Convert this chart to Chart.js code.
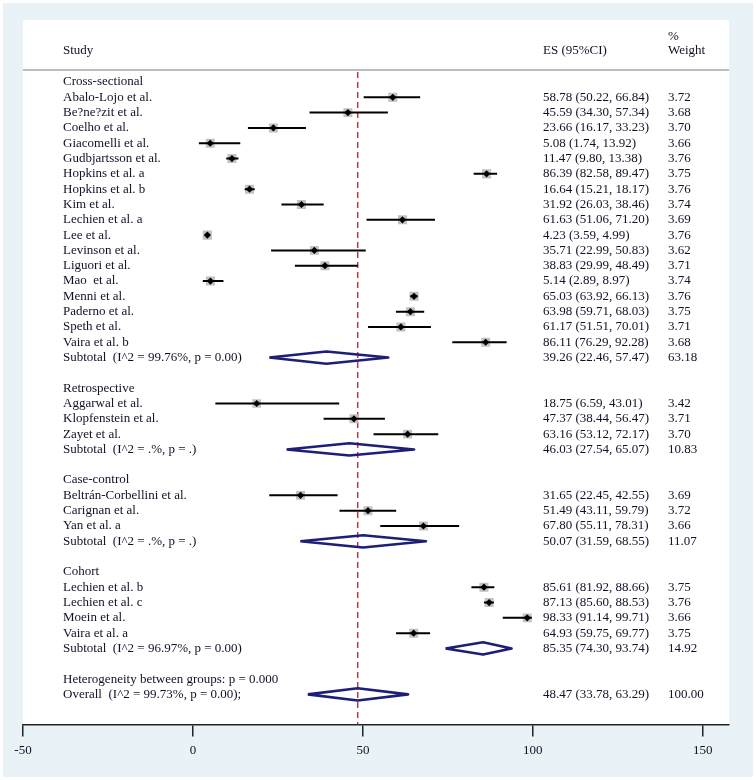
<!DOCTYPE html>
<html>
<head>
<meta charset="utf-8">
<script src="https://cdn.jsdelivr.net/npm/chart.js@4.4.1/dist/chart.umd.min.js"></script>
<style>
html,body{margin:0;padding:0;background:#ffffff;}
#wrap{width:756px;height:780px;position:relative;}
</style>
</head>
<body>
<div id="wrap"><canvas id="c" width="756" height="780"></canvas></div>
<script>
// ---------- DATA ----------
const rowLabels = [
  'Cross-sectional',
  'Abalo-Lojo et al.', 'Be?ne?zit et al.', 'Coelho et al.', 'Giacomelli et al.',
  'Gudbjartsson et al.', 'Hopkins et al. a', 'Hopkins et al. b', 'Kim et al.',
  'Lechien et al. a', 'Lee et al.', 'Levinson et al.', 'Liguori et al.',
  'Mao  et al.', 'Menni et al.', 'Paderno et al.', 'Speth et al.', 'Vaira et al. b',
  'Subtotal  (I^2 = 99.76%, p = 0.00)',
  '',
  'Retrospective',
  'Aggarwal et al.', 'Klopfenstein et al.', 'Zayet et al.',
  'Subtotal  (I^2 = .%, p = .)',
  '',
  'Case-control',
  'Beltrán-Corbellini et al.', 'Carignan et al.', 'Yan et al. a',
  'Subtotal  (I^2 = .%, p = .)',
  '',
  'Cohort',
  'Lechien et al. b', 'Lechien et al. c', 'Moein et al.', 'Vaira et al. a',
  'Subtotal  (I^2 = 96.97%, p = 0.00)',
  '',
  'Heterogeneity between groups: p = 0.000',
  'Overall  (I^2 = 99.73%, p = 0.00);'
];
const rowKinds = [
  'group',
  'study','study','study','study','study','study','study','study','study',
  'study','study','study','study','study','study','study','study',
  'pooled','blank',
  'group','study','study','study','pooled','blank',
  'group','study','study','study','pooled','blank',
  'group','study','study','study','study','pooled','blank',
  'note','pooled'
];
const esValues = [
  null,
  58.78, 45.59, 23.66, 5.08, 11.47, 86.39, 16.64, 31.92, 61.63, 4.23, 35.71, 38.83, 5.14, 65.03, 63.98, 61.17, 86.11,
  39.26, null,
  null, 18.75, 47.37, 63.16, 46.03, null,
  null, 31.65, 51.49, 67.80, 50.07, null,
  null, 85.61, 87.13, 98.33, 64.93, 85.35, null,
  null, 48.47
];
const ciLower = [
  null,
  50.22, 34.30, 16.17, 1.74, 9.80, 82.58, 15.21, 26.03, 51.06, 3.59, 22.99, 29.99, 2.89, 63.92, 59.71, 51.51, 76.29,
  22.46, null,
  null, 6.59, 38.44, 53.12, 27.54, null,
  null, 22.45, 43.11, 55.11, 31.59, null,
  null, 81.92, 85.60, 91.14, 59.75, 74.30, null,
  null, 33.78
];
const ciUpper = [
  null,
  66.84, 57.34, 33.23, 13.92, 13.38, 89.47, 18.17, 38.46, 71.20, 4.99, 50.83, 48.49, 8.97, 66.13, 68.03, 70.01, 92.28,
  57.47, null,
  null, 43.01, 56.47, 72.17, 65.07, null,
  null, 42.55, 59.79, 78.31, 68.55, null,
  null, 88.66, 88.53, 99.71, 69.77, 93.74, null,
  null, 63.29
];
const weights = [
  null,
  3.72, 3.68, 3.70, 3.66, 3.76, 3.75, 3.76, 3.74, 3.69, 3.76, 3.62, 3.71, 3.74, 3.76, 3.75, 3.71, 3.68,
  63.18, null,
  null, 3.42, 3.71, 3.70, 10.83, null,
  null, 3.69, 3.72, 3.66, 11.07, null,
  null, 3.75, 3.76, 3.66, 3.75, 14.92, null,
  null, 100.00
];
const xTicks = [-50, 0, 50, 100, 150];
const headerStudy = 'Study';
const headerES = 'ES (95%CI)';
const headerPct = '%';
const headerWeight = 'Weight';

// ---------- BUILD DATASETS ----------
const overallIndex = rowKinds.lastIndexOf('pooled');
const overallES = esValues[overallIndex];
const pointData = [], boxData = [], boxRadii = [], ciData = [], diamondData = [];
const DIAMOND_H = 0.40;
rowKinds.forEach((k, i) => {
  if (k === 'study') {
    pointData.push({x: esValues[i], y: i});
    boxData.push({x: esValues[i], y: i});
    boxRadii.push(3.3 * Math.sqrt(weights[i]));
    ciData.push({x: ciLower[i], y: i}, {x: ciUpper[i], y: i}, {x: null, y: null});
  } else if (k === 'pooled') {
    diamondData.push(
      {x: ciLower[i], y: i},
      {x: esValues[i], y: i - DIAMOND_H},
      {x: ciUpper[i], y: i},
      {x: esValues[i], y: i + DIAMOND_H},
      {x: ciLower[i], y: i},
      {x: null, y: null}
    );
  }
});
const Y_MIN = -4.05, Y_MAX = 41.96;

const TEXT_COLOR = '#101028';
const SERIF = '"Liberation Serif", "Times New Roman", serif';

const forestPlugin = {
  id: 'forestDecor',
  beforeDraw(chart) {
    const {ctx, chartArea: a} = chart;
    const ys = chart.scales.y;
    ctx.save();
    ctx.fillStyle = '#ffffff';
    ctx.fillRect(0, 0, chart.width, chart.height);
    ctx.fillStyle = '#e9f2f6';
    ctx.fillRect(3, 3, chart.width - 6, chart.height - 6);
    ctx.fillStyle = '#ffffff';
    ctx.fillRect(a.left, a.top, a.right - a.left, a.bottom - a.top);
    const ry = ys.getPixelForValue(-0.78);
    ctx.strokeStyle = '#a9a9a9';
    ctx.lineWidth = 1.5;
    ctx.beginPath();
    ctx.moveTo(a.left, ry);
    ctx.lineTo(a.right, ry);
    ctx.stroke();
    ctx.restore();
  },
  afterDatasetsDraw(chart) {
    const {ctx, chartArea: a} = chart;
    const ys = chart.scales.y;
    const xName = a.left + 40, xES = a.left + 520, xW = a.left + 645;
    ctx.save();
    ctx.fillStyle = TEXT_COLOR;
    ctx.textBaseline = 'middle';
    ctx.textAlign = 'left';
    ctx.font = '13px ' + SERIF;
    const yh = ys.getPixelForValue(-2.03);
    ctx.fillText(headerStudy, xName, yh);
    ctx.fillText(headerES, xES, yh);
    ctx.fillText(headerWeight, xW, yh);
    ctx.fillText(headerPct, xW, ys.getPixelForValue(-2.95));
    rowLabels.forEach((lab, i) => {
      const y = ys.getPixelForValue(i);
      if (lab) ctx.fillText(lab, xName, y);
      if (esValues[i] !== null) {
        ctx.fillText(weights[i].toFixed(2), xW, y);
        const s = esValues[i].toFixed(2) + ' (' + ciLower[i].toFixed(2) + ', ' + ciUpper[i].toFixed(2) + ')';
        ctx.fillText(s, xES, y);
      }
    });
    ctx.restore();
  }
};

new Chart(document.getElementById('c'), {
  type: 'scatter',
  data: {
    datasets: [
      { label: 'ES', data: pointData, pointStyle: 'rectRot', pointRadius: 3.6,
        backgroundColor: '#000000', borderWidth: 0, showLine: false },
      { label: 'CI', data: ciData, showLine: true, pointRadius: 0,
        borderColor: '#000000', borderWidth: 2, spanGaps: false },
      { label: 'Weight box', data: boxData, pointStyle: 'rect', pointRadius: boxRadii,
        backgroundColor: '#c2c2c2', borderWidth: 0, showLine: false },
      { label: 'Pooled', data: diamondData, showLine: true, pointRadius: 0,
        borderColor: '#1e1e78', borderWidth: 2.6, spanGaps: false, borderJoinStyle: 'round', fill: false },
      { label: 'Overall line', data: [{x: overallES, y: -0.65}, {x: overallES, y: Y_MAX}],
        showLine: true, pointRadius: 0, borderColor: '#b0403f', borderWidth: 1.5, borderDash: [6, 4] }
    ]
  },
  options: {
    responsive: false,
    animation: false,
    devicePixelRatio: 1,
    layout: { padding: { left: 23, right: 27, top: 20, bottom: 16 } },
    plugins: { legend: { display: false }, tooltip: { enabled: false } },
    events: [],
    scales: {
      x: {
        type: 'linear', min: -50, max: 157.7,
        afterBuildTicks: (scale) => { scale.ticks = xTicks.map(v => ({value: v})); },
        grid: { display: true, drawOnChartArea: false, drawTicks: true, tickLength: 12,
                tickColor: '#222222', lineWidth: 1.5 },
        border: { display: true, color: '#222222', width: 1.5 },
        ticks: { color: TEXT_COLOR, padding: 6, maxRotation: 0, autoSkip: false,
                 font: { family: SERIF, size: 13 } }
      },
      y: {
        type: 'linear', min: Y_MIN, max: Y_MAX, reverse: true, display: false
      }
    }
  },
  plugins: [forestPlugin]
});
</script>
</body>
</html>
